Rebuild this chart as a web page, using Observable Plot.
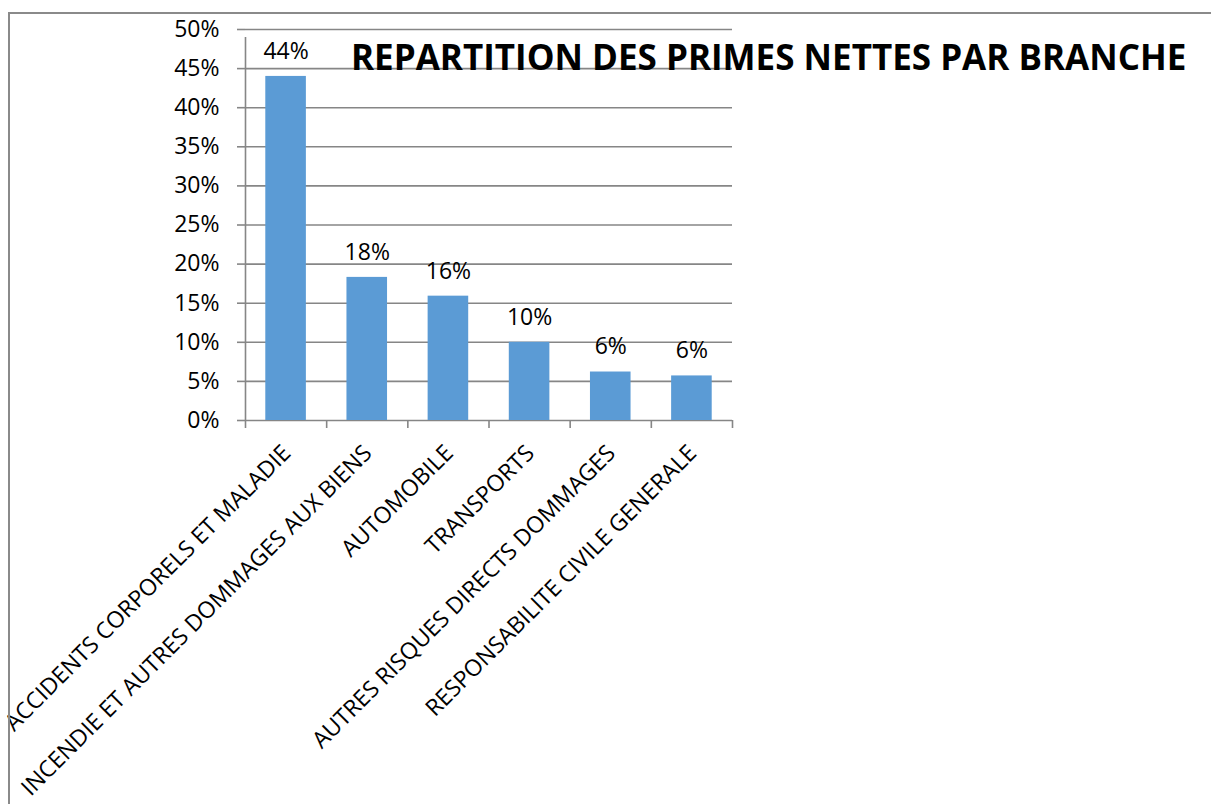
<!DOCTYPE html>
<html>
<head>
<meta charset="utf-8">
<script src="https://cdn.jsdelivr.net/npm/d3@7"></script>
<script src="https://cdn.jsdelivr.net/npm/@observablehq/plot@0.6"></script>
<style>
  html, body { margin: 0; padding: 0; background: #fff; overflow: hidden; }
  #wrap { position: relative; width: 1211px; height: 804px; overflow: hidden; }
  #chart { position: absolute; left: 0; top: 0; }
  #border { position: absolute; left: 8px; top: 12px; width: 1300px; height: 900px;
            border-left: 2px solid #8a8a8a; border-top: 2px solid #8a8a8a; pointer-events: none; }
  #title { position: absolute; left: 351px; top: 39px; font-family: "Open Sans", sans-serif;
           font-weight: 700; font-size: 35px; line-height: 1; color: #000; white-space: nowrap; }
</style>
</head>
<body>
<div id="wrap">
  <div id="chart"></div>
  <div id="border"></div>
  <div id="title">REPARTITION DES PRIMES NETTES PAR BRANCHE</div>
</div>
<script>
const categories = [
  "ACCIDENTS CORPORELS ET MALADIE",
  "INCENDIE ET AUTRES DOMMAGES AUX BIENS",
  "AUTOMOBILE",
  "TRANSPORTS",
  "AUTRES RISQUES DIRECTS DOMMAGES",
  "RESPONSABILITE CIVILE GENERALE"
];
const shares = [0.44, 0.183, 0.159, 0.10, 0.062, 0.057];
const yTicks = [0, 0.05, 0.10, 0.15, 0.20, 0.25, 0.30, 0.35, 0.40, 0.45, 0.50];

const data = categories.map((c, i) => ({category: c, index: i, value: shares[i]}));
const bounds = d3.range(categories.length + 1);
const pct = d3.format(".0%");
const gray = "#868686";
const fs = 23;

const chart = Plot.plot({
  width: 1211,
  height: 804,
  marginLeft: 245,
  marginRight: 479,
  marginTop: 29,
  marginBottom: 384,
  style: {fontFamily: "'Open Sans', sans-serif", background: "transparent", color: "#000"},
  x: {type: "linear", domain: [0, categories.length], axis: null},
  y: {domain: [0, 0.5], axis: null},
  marks: [
    Plot.ruleY(yTicks, {stroke: gray, strokeWidth: 1.6}),
    Plot.ruleX([0], {y1: 0, y2: 0.5, stroke: gray, strokeWidth: 1.6, insetBottom: -8}),
    Plot.axisY(yTicks, {tickSize: 8, tickPadding: 18, tickFormat: pct, stroke: gray, strokeWidth: 1.6,
                        fontSize: fs, label: null, anchor: "left"}),
    Plot.axisX(bounds, {tickSize: 8, tickFormat: () => "", stroke: gray, strokeWidth: 1.6, label: null, anchor: "bottom"}),
    Plot.rectY(data, {x1: d => d.index + 0.25, x2: d => d.index + 0.75, y: "value", fill: "#5B9BD5"}),
    Plot.text(data, {x: d => d.index + 0.5, y: "value", text: d => pct(d.value), dy: -25, fontSize: fs, fill: "#000"}),
    Plot.text(data, {x: d => d.index + 0.5, frameAnchor: "bottom", text: "category", rotate: -45,
                     textAnchor: "end", dx: 6, dy: 34, fontSize: fs, fill: "#000"})
  ]
});
document.getElementById("chart").appendChild(chart);
</script>
</body>
</html>
